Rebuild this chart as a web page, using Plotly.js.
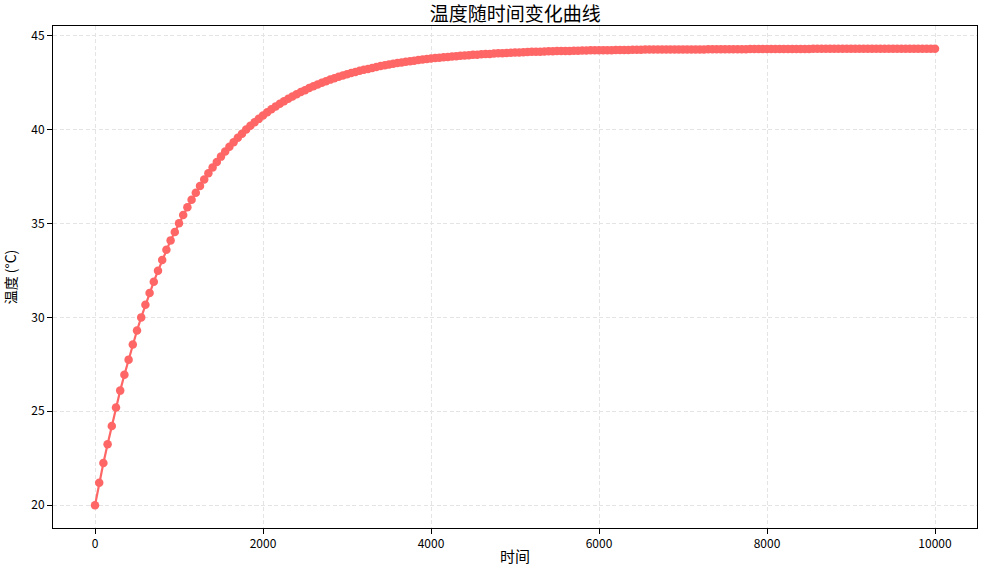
<!DOCTYPE html>
<html>
<head>
<meta charset="utf-8">
<script src="https://cdn.plot.ly/plotly-3.0.1.min.js"></script>
<style>html,body{margin:0;padding:0;background:#fff;}#chart{width:986px;height:566px;}</style>
</head>
<body>
<div id="chart"></div>
<script>
const times = [
  0,50,100,150,200,250,300,350,400,450,500,550,600,650,700,750,800,850,900,950,
  1000,1050,1100,1150,1200,1250,1300,1350,1400,1450,1500,1550,1600,1650,1700,1750,1800,1850,1900,1950,
  2000,2050,2100,2150,2200,2250,2300,2350,2400,2450,2500,2550,2600,2650,2700,2750,2800,2850,2900,2950,
  3000,3050,3100,3150,3200,3250,3300,3350,3400,3450,3500,3550,3600,3650,3700,3750,3800,3850,3900,3950,
  4000,4050,4100,4150,4200,4250,4300,4350,4400,4450,4500,4550,4600,4650,4700,4750,4800,4850,4900,4950,
  5000,5050,5100,5150,5200,5250,5300,5350,5400,5450,5500,5550,5600,5650,5700,5750,5800,5850,5900,5950,
  6000,6050,6100,6150,6200,6250,6300,6350,6400,6450,6500,6550,6600,6650,6700,6750,6800,6850,6900,6950,
  7000,7050,7100,7150,7200,7250,7300,7350,7400,7450,7500,7550,7600,7650,7700,7750,7800,7850,7900,7950,
  8000,8050,8100,8150,8200,8250,8300,8350,8400,8450,8500,8550,8600,8650,8700,8750,8800,8850,8900,8950,
  9000,9050,9100,9150,9200,9250,9300,9350,9400,9450,9500,9550,9600,9650,9700,9750,9800,9850,9900,9950,
  10000
];
const temperatures = [
  20.00,21.20,22.25,23.25,24.22,25.20,26.10,26.95,27.75,28.55,
  29.30,30.00,30.67,31.30,31.90,32.48,33.05,33.60,34.10,34.55,
  35.01,35.45,35.86,36.26,36.64,37.00,37.34,37.67,37.98,38.27,
  38.56,38.83,39.08,39.33,39.56,39.78,40.00,40.20,40.39,40.57,
  40.75,40.92,41.08,41.23,41.37,41.51,41.64,41.76,41.88,42.00,
  42.10,42.21,42.31,42.40,42.49,42.57,42.66,42.73,42.81,42.88,
  42.94,43.01,43.07,43.13,43.18,43.23,43.28,43.33,43.38,43.42,
  43.46,43.50,43.54,43.57,43.61,43.64,43.67,43.70,43.73,43.76,
  43.78,43.81,43.83,43.85,43.87,43.89,43.91,43.93,43.95,43.96,
  43.98,43.99,44.01,44.02,44.03,44.05,44.06,44.07,44.08,44.09,
  44.10,44.11,44.12,44.13,44.14,44.14,44.15,44.16,44.17,44.17,
  44.18,44.18,44.19,44.19,44.20,44.20,44.21,44.21,44.22,44.22,
  44.22,44.23,44.23,44.23,44.24,44.24,44.24,44.24,44.25,44.25,
  44.25,44.26,44.26,44.26,44.26,44.26,44.27,44.27,44.27,44.27,
  44.27,44.27,44.27,44.27,44.27,44.27,44.28,44.28,44.28,44.28,
  44.28,44.28,44.28,44.28,44.28,44.28,44.29,44.29,44.29,44.29,
  44.29,44.29,44.29,44.29,44.29,44.29,44.29,44.29,44.29,44.29,
  44.29,44.30,44.30,44.30,44.30,44.30,44.30,44.30,44.30,44.30,
  44.30,44.30,44.30,44.30,44.30,44.30,44.30,44.30,44.30,44.30,
  44.30,44.30,44.30,44.30,44.30,44.30,44.30,44.30,44.30,44.30,
  44.30
];
const chartTitle = '温度随时间变化曲线';
const xTitle = '时间';
const yTitle = '温度 (°C)';
const xTicks = [0,2000,4000,6000,8000,10000];
const yTicks = [20,25,30,35,40,45];

const FONT = '"Noto Sans CJK SC", "DejaVu Sans", sans-serif';
const trace = {
  x: times, y: temperatures, type: 'scatter', mode: 'lines+markers',
  line: {color: '#ff6666', width: 2.2},
  marker: {color: '#ff6666', size: 8.5},
  hoverinfo: 'skip'
};
const axisCommon = {
  showline: true, mirror: true, linecolor: '#000', linewidth: 1,
  ticks: 'outside', ticklen: 5, tickwidth: 1, tickcolor: '#000',
  showgrid: true, gridcolor: '#e4e4e4', griddash: '4px,2.5px', gridwidth: 1,
  zeroline: false, tickfont: {family: FONT, size: 12, color: '#000'}
};
const layout = {
  width: 986, height: 566,
  margin: {l: 53, r: 9, t: 26, b: 38},
  paper_bgcolor: '#fff', plot_bgcolor: '#fff',
  showlegend: false,
  font: {family: FONT, color: '#000'},
  title: {text: chartTitle, font: {family: FONT, size: 19, color: '#000'},
          x: 0.5226, xanchor: 'center', y: 0.975, yanchor: 'middle', yref: 'container'},
  xaxis: Object.assign({}, axisCommon, {
    range: [-500, 10500], tickvals: xTicks, ticktext: xTicks.map(String),
    title: {text: xTitle, font: {family: FONT, size: 15, color: '#000'}, standoff: 9}
  }),
  yaxis: Object.assign({}, axisCommon, {
    range: [18.785, 45.515], tickvals: yTicks, ticktext: yTicks.map(String),
    title: {text: yTitle, font: {family: FONT, size: 14, color: '#000'}, standoff: 12}
  })
};
Plotly.newPlot('chart', [trace], layout, {displayModeBar: false, staticPlot: true});
</script>
</body>
</html>
